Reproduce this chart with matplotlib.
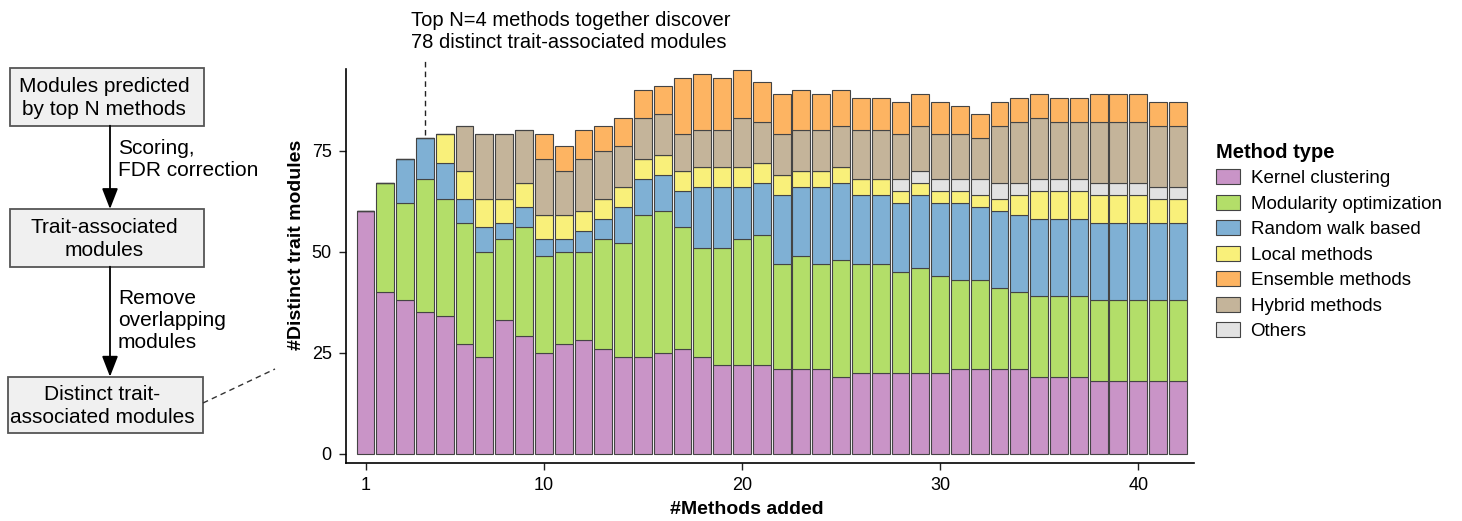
import numpy as np
import matplotlib
matplotlib.use("Agg")
import matplotlib.pyplot as plt
from matplotlib.patches import Patch, Rectangle, FancyArrowPatch

plt.rcParams['font.family'] = ['Liberation Sans', 'DejaVu Sans']

# number of methods added (x positions)
methods_added = list(range(1, 43))

# stacked counts per method type, bottom to top
kernel = [60, 40, 38, 35, 34, 27, 24, 33, 29, 25, 27, 28, 26, 24, 24, 25, 26, 24, 22, 22, 22,
          21, 21, 21, 19, 20, 20, 20, 20, 20, 21, 21, 21, 21, 19, 19, 19, 18, 18, 18, 18, 18]
modularity = [0, 27, 24, 33, 29, 30, 26, 20, 27, 24, 23, 22, 27, 28, 35, 35, 30, 27, 29, 31, 32,
              26, 28, 26, 29, 27, 27, 25, 26, 24, 22, 22, 20, 19, 20, 20, 20, 20, 20, 20, 20, 20]
random_walk = [0, 0, 11, 10, 9, 6, 6, 4, 5, 4, 3, 5, 5, 9, 9, 9, 9, 15, 15, 13, 13,
               17, 17, 19, 19, 17, 17, 17, 18, 18, 19, 18, 19, 19, 19, 19, 19, 19, 19, 19, 19, 19]
local = [0, 0, 0, 0, 7, 7, 7, 6, 6, 6, 6, 5, 5, 5, 5, 5, 5, 5, 5, 5, 5,
         5, 4, 4, 4, 4, 4, 3, 3, 3, 3, 3, 3, 5, 7, 7, 7, 7, 7, 7, 6, 6]
others = [0] * 27 + [3, 3, 3, 3, 4, 4, 3, 3, 3, 3, 3, 3, 3, 3, 3]
hybrid = [0, 0, 0, 0, 0, 11, 16, 16, 13, 14, 11, 13, 12, 10, 10, 10, 9, 9, 9, 12, 10,
          10, 10, 10, 10, 12, 12, 11, 11, 11, 11, 10, 14, 15, 15, 14, 14, 15, 15, 15, 15, 15]
ensemble = [0, 0, 0, 0, 0, 0, 0, 0, 0, 6, 6, 7, 6, 7, 7, 7, 14, 14, 13, 12, 10,
            10, 10, 9, 9, 8, 8, 8, 8, 8, 7, 6, 6, 6, 6, 6, 6, 7, 7, 7, 6, 6]

stack_order = [
    ("Kernel clustering", kernel, "#C994C7"),
    ("Modularity optimization", modularity, "#B3DE69"),
    ("Random walk based", random_walk, "#7FB0D4"),
    ("Local methods", local, "#F9F07A"),
    ("Others", others, "#E2E2E2"),
    ("Hybrid methods", hybrid, "#C4B49A"),
    ("Ensemble methods", ensemble, "#FDB462"),
]
legend_order = ["Kernel clustering", "Modularity optimization", "Random walk based",
                "Local methods", "Ensemble methods", "Hybrid methods", "Others"]

W, H = 1462, 521
fig = plt.figure(figsize=(W / 100, H / 100), dpi=100)

# overlay in pixel coordinates for the flowchart
ov = fig.add_axes([0, 0, 1, 1])
ov.set_xlim(0, W)
ov.set_ylim(H, 0)
ov.axis("off")

ax = fig.add_axes([345.7 / W, 1 - 463.3 / H, (1194.3 - 345.7) / W, (463.3 - 69.3) / H])

x = np.array(methods_added)
bottom = np.zeros(len(x))
colors = {}
for name, vals, col in stack_order:
    vals = np.array(vals)
    ax.bar(x, vals, bottom=bottom, width=0.9, color=col, edgecolor="#444444", linewidth=0.8)
    bottom += vals
    colors[name] = col
totals = bottom

ax.set_xlim(0, 42.83)
ax.set_ylim(-2.4, 95.1)
ax.set_xticks([1, 10, 20, 30, 40])
ax.set_yticks([0, 25, 50, 75])
ax.tick_params(axis="both", labelsize=13, length=5, width=1, pad=5, color="#222222")
for s in ["top", "right"]:
    ax.spines[s].set_visible(False)
for s in ["left", "bottom"]:
    ax.spines[s].set_linewidth(1.2)

# annotation for N=4
ax.plot([4, 4], [totals[3] + 0.8, 97.8], ls=(0, (4, 3)), color="#222222", lw=1, clip_on=False)
ov.text(411, 32, "Top N=4 methods together discover\n78 distinct trait-associated modules",
        fontsize=14.5, ha="left", va="center", linespacing=1.2)

fig.text(296.7 / W, 1 - 245 / H, "#Distinct trait modules", rotation=90, fontsize=14,
         fontweight="bold", ha="center", va="center")
fig.text(747 / W, 1 - 510 / H, "#Methods added", fontsize=14, fontweight="bold",
         ha="center", va="center")

# legend
handles = [Patch(facecolor=colors[n], edgecolor="#444444", linewidth=0.8) for n in legend_order]
leg = fig.legend(handles, legend_order, loc="upper left", bbox_to_anchor=(1199 / W, 1 - 126 / H),
                 frameon=False, title="Method type", fontsize=13.5, handlelength=1.3,
                 handleheight=0.85, handletextpad=0.55, labelspacing=0.4, alignment="left",
                 title_fontproperties={"weight": "bold", "size": 14.5})

# flowchart on the left
boxes = [
    (10, 67.7, 204, 125.7, "Modules predicted\nby top N methods"),
    (10, 209, 204, 266.7, "Trait-associated\nmodules"),
    (8, 376.7, 203, 433, "Distinct trait-\nassociated modules"),
]
for x0, y0, x1, y1, txt in boxes:
    ov.add_patch(Rectangle((x0, y0), x1 - x0, y1 - y0, facecolor="#F0F0F0",
                           edgecolor="#555555", linewidth=1.3))
    ov.text((x0 + x1) / 2 - 3, (y0 + y1) / 2 + 1, txt, ha="center", va="center",
            fontsize=15, linespacing=1.25)

for y0, y1 in [(125.7, 209), (266.7, 376.7)]:
    ov.add_patch(FancyArrowPatch((110, y0), (110, y1), arrowstyle="-|>,head_length=0.9,head_width=0.35",
                                 mutation_scale=14, color="black", lw=1.3, shrinkA=0, shrinkB=0))

ov.text(118, 159, "Scoring,\nFDR correction", ha="left", va="center", fontsize=15, linespacing=1.2)
ov.text(118, 320, "Remove\noverlapping\nmodules", ha="left", va="center", fontsize=15, linespacing=1.2)

ov.plot([203, 275], [403, 369], ls=(0, (4, 3)), color="#333333", lw=1)

fig.savefig("out.png", dpi=100)
